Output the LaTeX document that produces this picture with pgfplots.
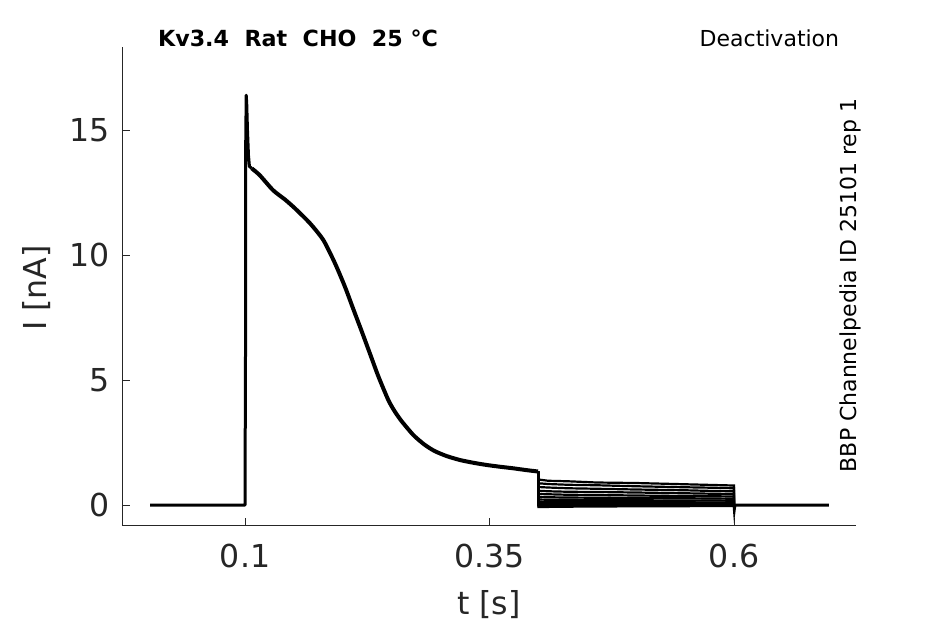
\documentclass[border=0pt]{standalone}
\usepackage{fontspec}
\setmainfont{DejaVu Sans}
\usepackage{pgfplots}
\pgfplotsset{compat=1.18}
\definecolor{ax}{HTML}{262626}
\begin{document}
\begin{tikzpicture}
\useasboundingbox (-61pt,-49pt) rectangle (411.5pt,263pt);
\begin{axis}[
  at={(0,0)}, anchor=south west,
  scale only axis, width=367pt, height=239.5pt,
  xmin=-0.0258, xmax=0.7247, ymin=-0.84, ymax=18.33,
  axis x line*=bottom, axis y line*=left,
  axis line style={-, ax, line width=0.5pt},
  tick align=inside, major tick length=4pt,
  tick style={ax, line width=0.5pt},
  xtick={0.1,0.35,0.6}, ytick={0,5,10,15},
  xticklabels={0.1,0.35,0.6},
  /pgf/number format/assume math mode=true,
  ticklabel style={font=\fontsize{15.8}{19}\selectfont, text=ax},
  xticklabel style={yshift=-5.7pt},
  yticklabel style={xshift=-2.7pt},
  every axis x label/.style={at={(axis description cs:0.5,0)}, yshift=-39.5pt, anchor=center},
  every axis y label/.style={at={(axis description cs:0,0.497)}, xshift=-42.6pt, rotate=90, anchor=center},
  label style={font=\fontsize{15.8}{19}\selectfont, text=ax},
  xlabel={t [s]}, ylabel={I [nA]},
  clip=false,
]
% baseline, step and spike
\addplot[black, line width=1.5pt, line join=round] coordinates {
(0.003,0) (0.1,0) (0.1,2.8) (0.1004,3.3) (0.1007,14.5) (0.1012,16.4) (0.1017,16.1)
(0.1025,15.0) (0.1035,14.0) (0.1045,13.55) (0.1069,13.47)
};
% decay (several overlapping traces)
\addplot[black, line width=2pt, line join=round, smooth, tension=0.4] coordinates {
(0.1069,13.47) (0.115,13.2) (0.1286,12.6) (0.141,12.22) (0.1511,11.87) (0.1665,11.27)
(0.1801,10.6) (0.192,9.67) (0.2022,8.73) (0.2107,7.84) (0.2193,6.95) (0.2278,6.05)
(0.2363,5.15) (0.2465,4.2) (0.2530,3.75) (0.2602,3.35) (0.2721,2.8) (0.2830,2.43)
(0.2933,2.17) (0.3060,1.96) (0.3198,1.8) (0.3335,1.69) (0.3474,1.6) (0.3610,1.53)
(0.374,1.47) (0.3870,1.40) (0.3996,1.34)
};
% deactivation traces
\addplot[black, line width=1.1pt] coordinates {(0.4,1.34) (0.4,1.02) (0.41,0.97) (0.43,0.95) (0.46,0.90) (0.5,0.88) (0.55,0.83) (0.58,0.80) (0.6,0.78) (0.6,0)};
\addplot[black, line width=1.1pt] coordinates {(0.4,1.34) (0.4,0.87) (0.41,0.84) (0.43,0.81) (0.46,0.79) (0.5,0.75) (0.55,0.71) (0.58,0.69) (0.6,0.67) (0.6,0)};
\addplot[black, line width=1.1pt] coordinates {(0.4,1.34) (0.4,0.72) (0.41,0.70) (0.43,0.67) (0.46,0.65) (0.5,0.62) (0.55,0.59) (0.58,0.56) (0.6,0.55) (0.6,0)};
\addplot[black, line width=1.1pt] coordinates {(0.4,1.34) (0.4,0.57) (0.41,0.55) (0.43,0.53) (0.46,0.52) (0.5,0.50) (0.55,0.47) (0.58,0.45) (0.6,0.44) (0.6,0)};
\addplot[black, line width=1.1pt] coordinates {(0.4,1.34) (0.4,0.44) (0.41,0.43) (0.43,0.41) (0.46,0.40) (0.5,0.38) (0.55,0.36) (0.58,0.35) (0.6,0.34) (0.6,0)};
\addplot[black, line width=1.1pt] coordinates {(0.4,1.34) (0.4,0.32) (0.41,0.31) (0.43,0.30) (0.46,0.29) (0.5,0.28) (0.55,0.27) (0.58,0.26) (0.6,0.25) (0.6,0)};
\addplot[black, line width=1.1pt] coordinates {(0.4,1.34) (0.4,0.22) (0.41,0.21) (0.43,0.21) (0.46,0.20) (0.5,0.19) (0.55,0.18) (0.58,0.18) (0.6,0.17) (0.6,0)};
\addplot[black, line width=1.1pt] coordinates {(0.4,1.34) (0.4,0.13) (0.41,0.12) (0.43,0.12) (0.46,0.12) (0.5,0.11) (0.55,0.11) (0.58,0.10) (0.6,0.10) (0.6,0)};
\addplot[black, line width=1.1pt] coordinates {(0.4,1.34) (0.4,0.06) (0.43,0.06) (0.5,0.05) (0.55,0.05) (0.6,0.05) (0.6,0)};
\addplot[black, line width=1.1pt] coordinates {(0.4,1.34) (0.4,0.01) (0.45,0.01) (0.5,0.01) (0.6,0.01) (0.6,0)};
\addplot[black, line width=1.1pt] coordinates {(0.4,1.34) (0.4,-0.04) (0.45,-0.03) (0.52,-0.02) (0.6,-0.02) (0.6,0)};
\addplot[black, line width=1.1pt] coordinates {(0.4,1.34) (0.4,-0.08) (0.45,-0.06) (0.52,-0.05) (0.6,-0.04) (0.6,0)};
% tail
\addplot[black, line width=1.5pt] coordinates {(0.6,0) (0.6003,-0.15) (0.6008,0) (0.697,0)};
\node[anchor=base, font=\bfseries\fontsize{11.1}{13}\selectfont] at (rel axis cs:0.2398,1.0006) {Kv3.4\ \ Rat\ \ CHO\ \ 25~°C};
\node[anchor=base, font=\fontsize{11}{13}\selectfont] at (rel axis cs:0.882,1.0006) {Deactivation};
\node[anchor=base, rotate=90, font=\fontsize{11}{13}\selectfont] at (rel axis cs:1.0,0.502) {BBP Channelpedia ID 25101 rep 1};
\end{axis}
\end{tikzpicture}
\end{document}
